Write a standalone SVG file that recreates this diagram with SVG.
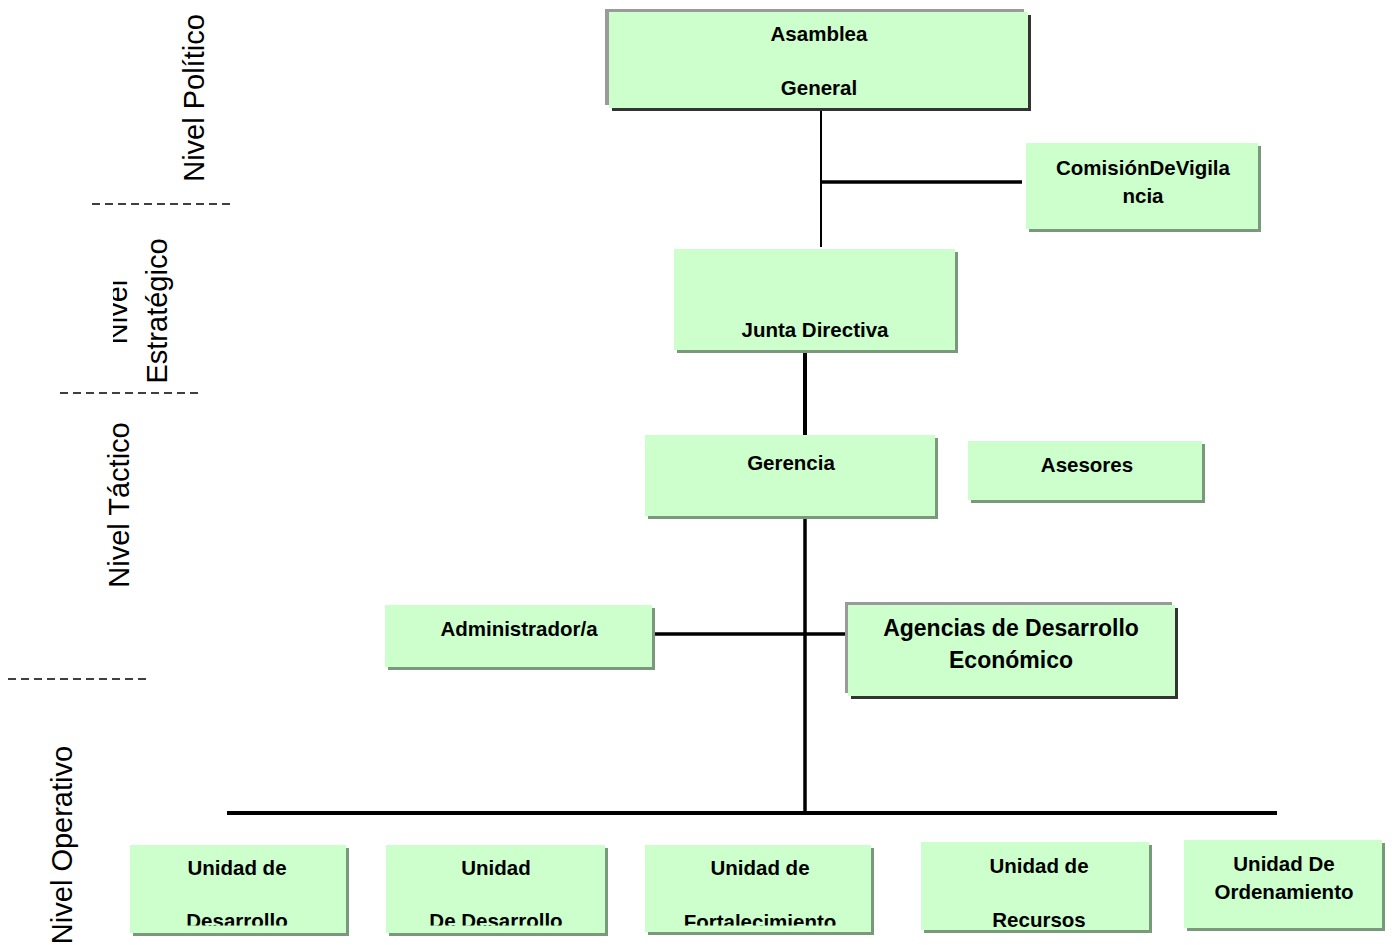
<svg xmlns="http://www.w3.org/2000/svg" width="1392" height="945" viewBox="0 0 1392 945">
<defs>
<style>
.fill{fill:#ccffcc}
.sh{fill:#7a987a}
.dk{fill:#333333}
.gr{fill:#9a9a9a}
.t{font-family:"Liberation Sans",Arial,sans-serif;font-weight:bold;font-size:20.5px;fill:#000;text-anchor:middle}
.big{font-size:23px}
.side{font-family:"Liberation Sans",Arial,sans-serif;font-size:29px;fill:#000;text-anchor:middle}
.ln{stroke:#000;fill:none}
.dash{stroke:#000;stroke-width:1.5;stroke-dasharray:8 5;fill:none}
</style>
<clipPath id="cb"><rect x="0" y="0" width="1392" height="925.5"/></clipPath>
<clipPath id="cn"><rect x="113" y="0" width="300" height="945"/></clipPath>
</defs>
<rect x="0" y="0" width="1392" height="945" fill="#ffffff"/>

<g id="levels">
<line class="dash" x1="92" y1="204" x2="234" y2="204"/>
<line class="dash" x1="60" y1="393" x2="202" y2="393"/>
<line class="dash" x1="8" y1="679" x2="150" y2="679"/>
<text class="side" transform="translate(204,98) rotate(-90)">Nivel Político</text>
<g clip-path="url(#cn)"><text class="side" transform="translate(127,312) rotate(-90)">Nivel</text></g>
<text class="side" transform="translate(167,311) rotate(-90)">Estratégico</text>
<text class="side" transform="translate(129,505) rotate(-90)">Nivel Táctico</text>
<text class="side" transform="translate(72,845) rotate(-90)">Nivel Operativo</text>
</g>

<g id="connectors">
<line class="ln" x1="821" y1="110" x2="821" y2="247" stroke-width="2"/>
<line class="ln" x1="821" y1="182" x2="1022" y2="182" stroke-width="3.5"/>
<line class="ln" x1="805" y1="352" x2="805" y2="435" stroke-width="4"/>
<line class="ln" x1="805" y1="518" x2="805" y2="813" stroke-width="3.5"/>
<line class="ln" x1="648" y1="634" x2="848" y2="634" stroke-width="3.5"/>
<line class="ln" x1="227" y1="813" x2="1277" y2="813" stroke-width="4"/>
</g>

<g id="asamblea">
<rect class="gr" x="605" y="9" width="419" height="96"/>
<rect class="dk" x="612" y="15" width="419" height="96"/>
<rect class="fill" x="609" y="12" width="419" height="96"/>
<text class="t" x="819" y="41">Asamblea</text>
<text class="t" x="819" y="95">General</text>
</g>

<g id="comision">
<rect class="sh" x="1029" y="146" width="232" height="86"/>
<rect class="fill" x="1026" y="143" width="232" height="86"/>
<text class="t" x="1143" y="175">ComisiónDeVigila</text>
<text class="t" x="1143" y="203">ncia</text>
</g>

<g id="junta">
<rect class="sh" x="677" y="252" width="281" height="101"/>
<rect class="fill" x="674" y="249" width="281" height="101"/>
<text class="t" x="815" y="337">Junta Directiva</text>
</g>

<g id="gerencia">
<rect class="sh" x="648" y="438" width="290" height="81"/>
<rect class="fill" x="645" y="435" width="290" height="81"/>
<text class="t" x="791" y="470">Gerencia</text>
</g>

<g id="asesores">
<rect class="sh" x="971" y="444" width="234" height="59"/>
<rect class="fill" x="968" y="441" width="234" height="59"/>
<text class="t" x="1087" y="472">Asesores</text>
</g>

<g id="administrador">
<rect class="sh" x="388" y="608" width="267" height="62"/>
<rect class="fill" x="385" y="605" width="267" height="62"/>
<text class="t" x="519" y="636">Administrador/a</text>
</g>

<g id="agencias">
<rect class="gr" x="845" y="602" width="327" height="91"/>
<rect class="dk" x="851" y="608" width="327" height="91"/>
<rect class="fill" x="848" y="605" width="327" height="91"/>
<text class="t big" x="1011" y="636">Agencias de Desarrollo</text>
<text class="t big" x="1011" y="668">Económico</text>
</g>

<g id="unidad1">
<rect class="sh" x="133" y="848" width="216" height="88"/>
<rect class="fill" x="130" y="845" width="216" height="88"/>
<text class="t" x="237" y="875">Unidad de</text>
<text class="t" x="237" y="928" clip-path="url(#cb)">Desarrollo</text>
</g>

<g id="unidad2">
<rect class="sh" x="389" y="848" width="219" height="88"/>
<rect class="fill" x="386" y="845" width="219" height="88"/>
<text class="t" x="496" y="875">Unidad</text>
<text class="t" x="496" y="928" clip-path="url(#cb)">De Desarrollo</text>
</g>

<g id="unidad3">
<rect class="sh" x="648" y="848" width="226" height="87"/>
<rect class="fill" x="645" y="845" width="226" height="87"/>
<text class="t" x="760" y="875">Unidad de</text>
<text class="t" x="760" y="929" clip-path="url(#cb)">Fortalecimiento</text>
</g>

<g id="unidad4">
<rect class="sh" x="924" y="845" width="228" height="88"/>
<rect class="fill" x="921" y="842" width="228" height="88"/>
<text class="t" x="1039" y="873">Unidad de</text>
<text class="t" x="1039" y="927">Recursos</text>
</g>

<g id="unidad5">
<rect class="sh" x="1187" y="843" width="198" height="88"/>
<rect class="fill" x="1184" y="840" width="198" height="88"/>
<text class="t" x="1284" y="871">Unidad De</text>
<text class="t" x="1284" y="899">Ordenamiento</text>
</g>
</svg>
